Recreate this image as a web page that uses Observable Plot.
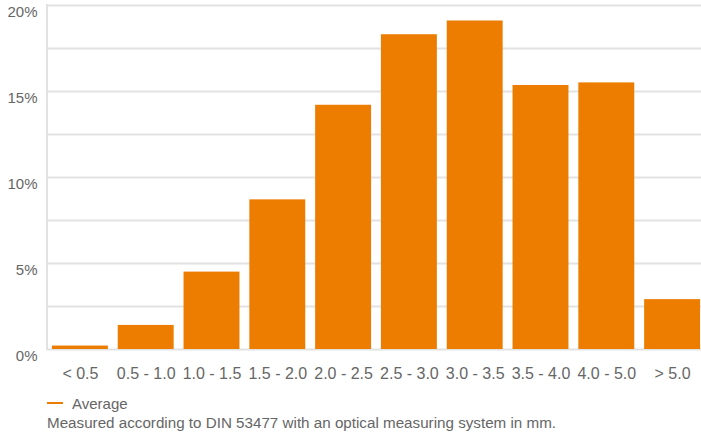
<!DOCTYPE html>
<html>
<head>
<meta charset="utf-8">
<script src="https://cdn.jsdelivr.net/npm/d3@7"></script>
<script src="https://cdn.jsdelivr.net/npm/@observablehq/plot@0.6"></script>
<style>
  body { margin: 0; background: #fff; font-family: "Liberation Sans", Arial, sans-serif; }
  #wrap { width: 701px; position: relative; }
  .legend { margin-left: 47px; margin-top: 4px; font-size: 15px; color: #666; display: flex; align-items: center; height: 18px; }
  .legend .sw { width: 16px; height: 2.5px; background: #ec7d00; margin-right: 9px; }
  .caption { margin-left: 47px; font-size: 15.2px; color: #666; margin-top: 2px; line-height: 18px; }
</style>
</head>
<body>
<div id="wrap"></div>
<script>
const categories = ["< 0.5", "0.5 - 1.0", "1.0 - 1.5", "1.5 - 2.0", "2.0 - 2.5", "2.5 - 3.0", "3.0 - 3.5", "3.5 - 4.0", "4.0 - 5.0", "> 5.0"];
const values = [0.2, 1.4, 4.5, 8.7, 14.2, 18.3, 19.1, 15.35, 15.5, 2.9];
const gridTicks = [0, 2.5, 5, 7.5, 10, 12.5, 15, 17.5, 20];
const labelTicks = [0, 5, 10, 15, 20];
const seriesName = "Average";
const caption = "Measured according to DIN 53477 with an optical measuring system in mm.";

const data = categories.map((c, i) => ({category: c, value: values[i]}));
const orange = "#ec7d00";

const chart = Plot.plot({
  width: 701,
  height: 390,
  marginTop: 5,
  marginBottom: 41,
  marginLeft: 47,
  marginRight: 0,
  style: { fontFamily: "Liberation Sans, Arial, sans-serif", fontSize: "15px", color: "#666", background: "#fff" },
  x: { domain: categories, range: [47, 705], round: false, paddingInner: 0.15, paddingOuter: 0.075, label: null },
  y: { domain: [0, 20], label: null },
  marks: [
    Plot.gridY(gridTicks, { stroke: "#e2e2e2", strokeOpacity: 1, strokeWidth: 2 }),
    Plot.barY(data, { x: "category", y: "value", fill: orange }),
    Plot.axisY(labelTicks, { tickSize: 0, tickPadding: 10, dy: 7, tickFormat: d => d + "%", fontSize: 15, fill: "#666", label: null }),
    Plot.axisX({ tickSize: 0, tickPadding: 18, fontSize: 16, fill: "#666", label: null })
  ]
});

// vertical axis line on the left edge
const svg = d3.select(chart);
svg.append("line")
  .attr("x1", 47).attr("x2", 47).attr("y1", 4).attr("y2", 350)
  .attr("stroke", "#e2e2e2").attr("stroke-width", 2);

const wrap = document.getElementById("wrap");
wrap.appendChild(chart);
const leg = document.createElement("div");
leg.className = "legend";
leg.innerHTML = '<span class="sw"></span><span></span>';
leg.lastChild.textContent = seriesName;
wrap.appendChild(leg);
const cap = document.createElement("div");
cap.className = "caption";
cap.textContent = caption;
wrap.appendChild(cap);
</script>
</body>
</html>
